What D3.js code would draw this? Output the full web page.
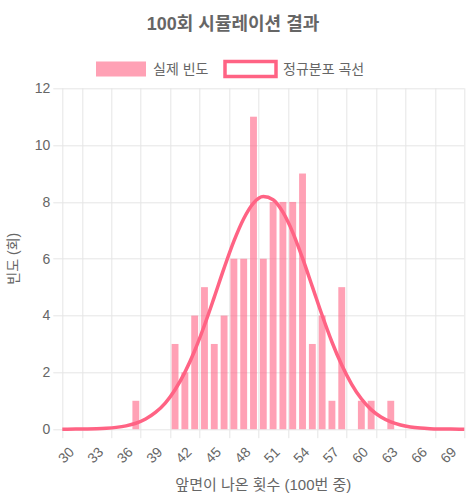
<!DOCTYPE html>
<html>
<head>
<meta charset="utf-8">
<script src="https://cdn.jsdelivr.net/npm/d3@7"></script>
<style>
  body { margin: 0; background: #fff; }
  svg { display: block; font-family: "Liberation Sans", "Noto Sans CJK KR", sans-serif; }
  .grid line { stroke: #e5e5e5; stroke-width: 1; }
  .tick-label { fill: #666; font-size: 14px; }
  .axis-title { fill: #666; font-size: 14px; }
</style>
</head>
<body>
<svg id="chart"></svg>
<script>
// heads count per 100 flips (x categories)
const categories = [30, 31, 32, 33, 34, 35, 36, 37, 38, 39, 40, 41, 42, 43, 44, 45, 46, 47, 48, 49,
                    50, 51, 52, 53, 54, 55, 56, 57, 58, 59, 60, 61, 62, 63, 64, 65, 66, 67, 68, 69, 70];
const counts =     [0, 0, 0, 0, 0, 0, 0, 1, 0, 0, 0, 3, 2, 4, 5, 3, 4, 6, 6, 11,
                    6, 8, 8, 8, 9, 3, 4, 1, 5, 0, 1, 1, 0, 1, 0, 0, 0, 0, 0, 0, 0];
const tickLabels = [30, 33, 36, 39, 42, 45, 48, 51, 54, 57, 60, 63, 66, 69];
const yTicks = [0, 2, 4, 6, 8, 10, 12];

// normal curve
const curveX = [29.5, 30, 31, 32, 33, 34, 35, 36, 37, 38, 39, 40, 41, 42, 43, 44, 45, 46, 47, 48, 49,
                50, 51, 52, 53, 54, 55, 56, 57, 58, 59, 60, 61, 62, 63, 64, 65, 66, 67, 68, 69, 70, 70.5];
const curveY = [0.001, 0.002, 0.004, 0.008, 0.016, 0.033, 0.064, 0.118, 0.21, 0.36, 0.59, 0.92, 1.39, 2.0, 2.76,
                3.66, 4.65, 5.67, 6.62, 7.41, 7.96, 8.19, 8.08, 7.64, 6.93, 6.02, 5.02, 4.01, 3.07,
                2.26, 1.59, 1.07, 0.69, 0.43, 0.26, 0.15, 0.08, 0.04, 0.02, 0.01, 0.005, 0.002, 0.001];

const config = {
  width: 466,
  height: 500,
  margin: {top: 88.3, right: 1.7, bottom: 70.8, left: 62.3}
};
const pink = 'rgb(255, 99, 132)';
const pinkFill = 'rgba(255, 99, 132, 0.6)';

const width = config.width - config.margin.left - config.margin.right;
const height = config.height - config.margin.top - config.margin.bottom;

const svg = d3.select('#chart')
    .attr('width', config.width)
    .attr('height', config.height);

const chart = svg.append('g')
    .attr('transform', `translate(${config.margin.left},${config.margin.top})`);

const xScale = d3.scaleBand()
    .domain(categories)
    .range([0, width])
    .paddingInner(0.3)
    .paddingOuter(0.15);
const step = xScale.step();
const xCenter = d => xScale(d) + xScale.bandwidth() / 2;

// line lives on the same positions as the category centres
const xLine = d3.scaleLinear()
    .domain([categories[0] - 0.5, categories[categories.length - 1] + 0.5])
    .range([0, width]);

const yScale = d3.scaleLinear()
    .domain([0, 12])
    .range([height, 0]);

// horizontal grid + ticks
const grid = chart.append('g').attr('class', 'grid');
grid.selectAll('.hline')
    .data(yTicks)
    .join('line')
    .attr('x1', -9).attr('x2', width)
    .attr('y1', d => Math.round(yScale(d)) + 0.5)
    .attr('y2', d => Math.round(yScale(d)) + 0.5);

// vertical grid lines sit between the shown labels (offset by half a label spacing)
const vLines = tickLabels.map(d => xCenter(d) - 1.5 * step)
    .concat([xCenter(tickLabels[tickLabels.length - 1]) + 1.5 * step])
    .filter(v => v >= -0.5);
grid.selectAll('.vline')
    .data([0].concat(vLines))
    .join('line')
    .attr('x1', d => Math.round(d) + 0.5).attr('x2', d => Math.round(d) + 0.5)
    .attr('y1', 0).attr('y2', height + 9);

// y tick labels
chart.append('g')
    .selectAll('text')
    .data(yTicks)
    .join('text')
    .attr('class', 'tick-label')
    .attr('x', -12)
    .attr('y', d => yScale(d))
    .attr('dy', '0.35em')
    .attr('text-anchor', 'end')
    .text(d => d);

// x tick labels, rotated
chart.append('g')
    .selectAll('text')
    .data(tickLabels)
    .join('text')
    .attr('class', 'tick-label')
    .attr('transform', d => `translate(${xCenter(d)},${height + 16}) rotate(-45)`)
    .attr('dy', '0.78em')
    .attr('text-anchor', 'end')
    .text(d => d);

// bars
chart.selectAll('.bar')
    .data(categories.map((c, i) => ({c, v: counts[i]})).filter(d => d.v > 0))
    .join('rect')
    .attr('class', 'bar')
    .attr('x', d => xScale(d.c))
    .attr('y', d => yScale(d.v))
    .attr('width', xScale.bandwidth())
    .attr('height', d => yScale(0) - yScale(d.v))
    .attr('fill', pinkFill);

// normal curve
const line = d3.line()
    .x((d, i) => xLine(curveX[i]))
    .y(d => yScale(d))
    .curve(d3.curveMonotoneX);

chart.append('path')
    .datum(curveY)
    .attr('fill', 'none')
    .attr('stroke', pink)
    .attr('stroke-width', 3.5)
    .attr('d', line);

// axis titles
chart.append('text')
    .attr('class', 'axis-title')
    .attr('x', width / 2)
    .attr('y', height + 61)
    .attr('text-anchor', 'middle')
    .style('font-size', '15px')
    .text('앞면이 나온 횟수 (100번 중)');

svg.append('text')
    .attr('class', 'axis-title')
    .attr('transform', `translate(13,${config.margin.top + height / 2}) rotate(-90)`)
    .attr('dy', '0.35em')
    .attr('text-anchor', 'middle')
    .text('빈도 (회)');

// title
svg.append('text')
    .attr('x', config.width / 2)
    .attr('y', 29.5)
    .attr('text-anchor', 'middle')
    .attr('fill', '#666')
    .style('font-size', '18px')
    .style('font-weight', 'bold')
    .text('100회 시뮬레이션 결과');

// legend
const legendItems = [
  {label: '실제 빈도', type: 'bar', x: 96},
  {label: '정규분포 곡선', type: 'line', x: 225}
];
const boxW = 50, boxH = 15, legendY = 69;
const items = svg.append('g')
    .selectAll('g')
    .data(legendItems)
    .join('g')
    .attr('transform', d => `translate(${d.x},0)`);
items.filter(d => d.type === 'bar').append('rect')
    .attr('x', 0).attr('y', legendY - boxH / 2)
    .attr('width', boxW).attr('height', boxH)
    .attr('fill', pinkFill);
items.filter(d => d.type === 'line').append('rect')
    .attr('x', 0).attr('y', legendY - boxH / 2)
    .attr('width', boxW + 1).attr('height', boxH)
    .attr('fill', '#fff')
    .attr('stroke', pink)
    .attr('stroke-width', 3.5);
items.append('text')
    .attr('class', 'tick-label')
    .attr('x', d => d.type === 'line' ? boxW + 8 : boxW + 7)
    .attr('y', legendY)
    .attr('dy', '0.35em')
    .text(d => d.label);
</script>
</body>
</html>
